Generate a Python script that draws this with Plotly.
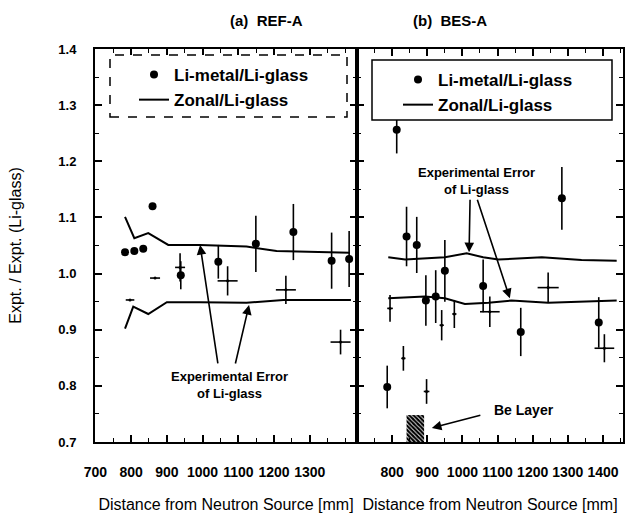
import plotly.graph_objects as go

# ---- panel (a) REF-A ----
a_dot_x = [783, 809, 834, 860, 939, 1044, 1149, 1254, 1361, 1410]
a_dot_y = [1.038, 1.040, 1.044, 1.120, 0.997, 1.021, 1.053, 1.074, 1.023, 1.026]
a_dot_err = [0, 0, 0, 0, 0.025, 0.03, 0.05, 0.05, 0.05, 0.05]

a_crs_x = [797, 867, 937, 1070, 1233, 1386]
a_crs_y = [0.953, 0.992, 1.011, 0.987, 0.971, 0.878]
a_crs_xerr = [12, 14, 14, 28, 28, 28]
a_crs_yerr = [0, 0, 0.025, 0.026, 0.025, 0.022]

a_up_x = [783, 809, 848, 904, 993, 1123, 1207, 1412]
a_up_y = [1.101, 1.063, 1.072, 1.051, 1.051, 1.048, 1.040, 1.037]
a_lo_x = [783, 806, 848, 900, 993, 1123, 1226, 1415]
a_lo_y = [0.902, 0.941, 0.928, 0.949, 0.949, 0.948, 0.953, 0.953]

# ---- panel (b) BES-A ----
b_dot_x = [786, 813, 841, 870, 896, 924, 950, 1059, 1166, 1283, 1388]
b_dot_y = [0.798, 1.256, 1.066, 1.051, 0.952, 0.959, 1.005, 0.978, 0.896, 1.134, 0.913]
b_dot_err = [0.038, 0.042, 0.053, 0.05, 0.045, 0.047, 0.055, 0.047, 0.043, 0.056, 0.045]

b_crs_x = [794, 832, 898, 941, 977, 1078, 1244, 1404]
b_crs_y = [0.938, 0.849, 0.790, 0.908, 0.928, 0.932, 0.975, 0.867]
b_crs_xerr = [8, 6, 8, 6, 6, 28, 30, 28]
b_crs_yerr = [0.024, 0.022, 0.022, 0.027, 0.025, 0.027, 0.027, 0.025]

b_up_x = [789, 837, 950, 1012, 1059, 1102, 1226, 1339, 1439]
b_up_y = [1.029, 1.025, 1.029, 1.036, 1.029, 1.025, 1.029, 1.024, 1.023]
b_lo_x = [789, 893, 950, 1007, 1074, 1140, 1244, 1439]
b_lo_y = [0.956, 0.959, 0.956, 0.946, 0.948, 0.952, 0.948, 0.952]

# Be layer position (mm) and height
be_x0, be_x1, be_top = 841, 891, 0.748

a_ticks = [700, 800, 900, 1000, 1100, 1200, 1300]
b_ticks = [800, 900, 1000, 1100, 1200, 1300, 1400]

FONT = "Liberation Sans, Arial, sans-serif"
BLACK = "black"

fig = go.Figure()


def add_panel(xa, ya, legend, dx, dy, de, cx, cy, cxe, cye, ux, uy, lx, ly):
    fig.add_trace(go.Scatter(
        x=dx, y=dy, mode="markers", name="Li-metal/Li-glass",
        xaxis=xa, yaxis=ya, legend=legend,
        marker=dict(size=8, color=BLACK),
        error_y=dict(type="data", array=de, visible=True, width=0,
                     thickness=1.6, color=BLACK),
    ))
    fig.add_trace(go.Scatter(
        x=cx, y=cy, mode="markers", showlegend=False,
        xaxis=xa, yaxis=ya,
        marker=dict(size=3, color=BLACK),
        error_x=dict(type="data", array=cxe, visible=True, width=0,
                     thickness=1.6, color=BLACK),
        error_y=dict(type="data", array=cye, visible=True, width=0,
                     thickness=1.6, color=BLACK),
    ))
    fig.add_trace(go.Scatter(
        x=ux, y=uy, mode="lines", name="Zonal/Li-glass",
        xaxis=xa, yaxis=ya, legend=legend,
        line=dict(color=BLACK, width=2),
    ))
    fig.add_trace(go.Scatter(
        x=lx, y=ly, mode="lines", showlegend=False,
        xaxis=xa, yaxis=ya,
        line=dict(color=BLACK, width=2),
    ))


add_panel("x", "y", "legend", a_dot_x, a_dot_y, a_dot_err,
          a_crs_x, a_crs_y, a_crs_xerr, a_crs_yerr,
          a_up_x, a_up_y, a_lo_x, a_lo_y)
add_panel("x2", "y2", "legend2", b_dot_x, b_dot_y, b_dot_err,
          b_crs_x, b_crs_y, b_crs_xerr, b_crs_yerr,
          b_up_x, b_up_y, b_lo_x, b_lo_y)

# hatched Be layer
fig.add_trace(go.Bar(
    x=[(be_x0 + be_x1) / 2], y=[be_top - 0.7], base=[0.7],
    width=[be_x1 - be_x0], xaxis="x2", yaxis="y2", showlegend=False,
    marker=dict(color="white", line=dict(width=0),
                pattern=dict(shape="\\", fgcolor=BLACK, fgopacity=1,
                             size=3, solidity=0.75)),
))

axis_common = dict(
    showline=True, linecolor=BLACK, linewidth=2, mirror="ticks",
    ticks="inside", ticklen=7, tickwidth=1.5, tickcolor=BLACK,
    showgrid=False, zeroline=False,
    minor=dict(ticks="inside", ticklen=4, tickwidth=1.2, tickcolor=BLACK),
)

split = 262 / 528

fig.update_layout(
    width=640, height=527,
    margin=dict(l=95, r=17, t=49, b=85),
    paper_bgcolor="white", plot_bgcolor="white",
    font=dict(family=FONT, color=BLACK),
    barmode="overlay",
    xaxis=dict(domain=[0, split], range=[699, 1432], tickvals=a_ticks,
               minor_dtick=50, ticklabelstandoff=16,
               tickfont=dict(size=14, weight="bold"),
               title=dict(text="Distance from Neutron Source [mm]",
                          font=dict(size=16), standoff=20),
               **axis_common),
    xaxis2=dict(domain=[split, 1], range=[700, 1457], tickvals=b_ticks,
                minor_dtick=50, ticklabelstandoff=16,
                tickfont=dict(size=14, weight="bold"),
                title=dict(text="Distance from Neutron Source [mm]",
                           font=dict(size=16), standoff=20),
                anchor="y2", **axis_common),
    yaxis=dict(range=[0.7, 1.4], dtick=0.1, tickformat=".1f",
               minor_dtick=0.05, ticklabelstandoff=14,
               tickfont=dict(size=13, weight="bold"),
               title=dict(text="Expt. / Expt. (Li-glass)",
                          font=dict(size=16), standoff=33),
               anchor="x", **axis_common),
    yaxis2=dict(range=[0.7, 1.4], dtick=0.1, minor_dtick=0.05,
                showticklabels=False, anchor="x2", matches="y",
                **axis_common),
    legend=dict(x=(134 - 95) / 528, y=(442 - 57) / 393,
                xanchor="left", yanchor="top",
                bgcolor="rgba(0,0,0,0)", borderwidth=0,
                font=dict(size=17, weight="bold"), tracegroupgap=0),
    legend2=dict(x=(398 - 95) / 528, y=(442 - 62) / 393,
                 xanchor="left", yanchor="top",
                 bgcolor="rgba(0,0,0,0)", borderwidth=0,
                 font=dict(size=17, weight="bold"), tracegroupgap=0),
    shapes=[
        dict(type="rect", xref="paper", yref="paper",
             x0=(110 - 95) / 528, x1=(347 - 95) / 528,
             y0=(442 - 117) / 393, y1=(442 - 55) / 393,
             line=dict(color=BLACK, width=1.5, dash="dash"),
             fillcolor="white", layer="above"),
        dict(type="rect", xref="paper", yref="paper",
             x0=(372 - 95) / 528, x1=(612 - 95) / 528,
             y0=(442 - 120) / 393, y1=(442 - 60) / 393,
             line=dict(color=BLACK, width=1.5),
             fillcolor="white", layer="above"),
    ],
)

arrow_style = dict(showarrow=True, arrowhead=2, arrowsize=1.2, arrowwidth=1.6,
                   arrowcolor=BLACK, text="")

ann = []
# panel titles
ann.append(dict(text="<b>(a)  REF-A</b>", xref="paper", yref="paper",
                x=(228 - 95) / 528, y=(442 - 20) / 393, yanchor="middle",
                showarrow=False, font=dict(size=15)))
ann.append(dict(text="<b>(b)  BES-A</b>", xref="paper", yref="paper",
                x=(489 - 95) / 528, y=(442 - 20) / 393, yanchor="middle",
                showarrow=False, font=dict(size=15)))
# panel (a) labels and arrows
ann.append(dict(text="<b>Experimental Error<br>of Li-glass</b>", xref="x", yref="y",
                x=1075, y=0.801, showarrow=False, font=dict(size=13)))
ann.append(dict(x=993, y=1.051, xref="x", yref="y", ax=18, ay=120, **arrow_style))
ann.append(dict(x=1130, y=0.944, xref="x", yref="y", ax=-14, ay=60, **arrow_style))
# panel (b) labels and arrows
ann.append(dict(text="<b>Experimental Error<br>of Li-glass</b>", xref="x2", yref="y2",
                x=1039, y=1.165, showarrow=False, font=dict(size=13)))
ann.append(dict(x=1019, y=1.038, xref="x2", yref="y2", ax=1, ay=-54, **arrow_style))
ann.append(dict(x=1135, y=0.956, xref="x2", yref="y2", ax=-33, ay=-100, **arrow_style))
ann.append(dict(text="<b>Be Layer</b>", xref="x2", yref="y2",
                x=1174, y=0.757, showarrow=False, font=dict(size=14)))
ann.append(dict(x=913, y=0.725, xref="x2", yref="y2", ax=50, ay=-13, **arrow_style))
fig.update_layout(annotations=ann)

fig.write_html("out.html")
